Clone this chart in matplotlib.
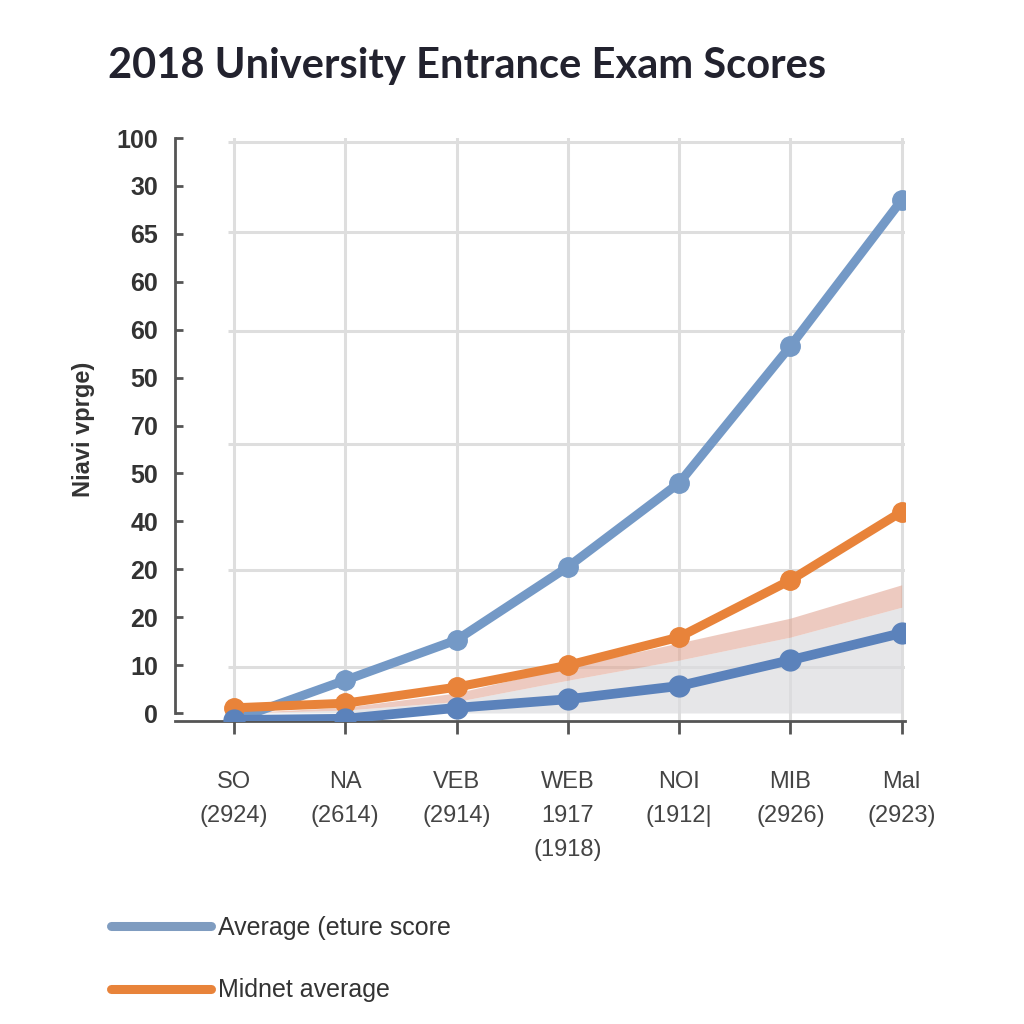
import numpy as np
import matplotlib
matplotlib.use("Agg")
import matplotlib.pyplot as plt
from matplotlib.lines import Line2D

# chart data
categories = ["SO\n(2924)", "NA\n(2614)", "VEB\n(2914)", "WEB\n1917\n(1918)",
              "NOI\n(1912|", "MIB\n(2926)", "Mal\n(2923)"]
avg_score = [-1.2, 5.7, 12.7, 25.4, 40.0, 63.8, 89.2]
midnet_avg = [0.9, 1.7, 4.5, 8.3, 13.2, 23.1, 35.0]
lower_score = [-1.2, -1.0, 0.9, 2.4, 4.7, 9.2, 13.9]
band_low = [0.0, 0.5, 2.0, 5.7, 9.2, 13.2, 18.4]
band_high = [0.0, 1.0, 3.5, 8.0, 12.2, 16.5, 22.3]
ytick_labels = ["0", "10", "20", "20", "40", "50", "70", "50", "60", "60", "65", "30", "100"]
grid_y = [8.0, 24.9, 46.8, 66.4, 83.7, 99.3]
legend_labels = ["Average (eture score", "Midnet average"]

narrow = ["Liberation Sans", "DejaVu Sans"]

fig = plt.figure(figsize=(10.24, 10.24), dpi=100)
ax = fig.add_axes([175 / 1024, 1 - 720.5 / 1024, 730 / 1024, 582.5 / 1024])

x = np.arange(len(categories))
ax.set_xlim(-0.53, 6.03)
ax.set_ylim(-1.3, 100)

# grid
for gx in x:
    ax.axvline(gx, color="#dedede", lw=2.2, zorder=0)
ax.hlines(grid_y, -0.05, 6.03, color="#dedede", lw=2.2, zorder=0)

# shaded bands
ax.fill_between(x, 0, band_low, color="#dcdcdf", alpha=0.7, lw=0, zorder=1)
ax.fill_between(x, band_low, band_high, color="#e2a896", alpha=0.6, lw=0, zorder=1)

ax.plot(x, avg_score, color="#7499c6", lw=6.5, marker="o", ms=14, zorder=3,
        solid_capstyle="round")
ax.plot(x, midnet_avg, color="#e8833a", lw=6.5, marker="o", ms=14, zorder=4,
        solid_capstyle="round")
ax.plot(x, lower_score, color="#5b82bb", lw=7, marker="o", ms=15, zorder=5,
        solid_capstyle="round")

# axes styling
for s in ["top", "right"]:
    ax.spines[s].set_visible(False)
for s in ["left", "bottom"]:
    ax.spines[s].set_color("#555555")
    ax.spines[s].set_linewidth(2)
ax.spines["left"].set_bounds(0, 100)

ax.set_yticks(np.linspace(0, 100, 13))
ax.set_yticklabels(ytick_labels, fontsize=18, fontweight="bold", color="#333333",
                   family=narrow)
ax.tick_params(axis="y", direction="in", length=6, width=2, color="#555555", pad=12)

ax.set_xticks(x)
ax.set_xticklabels(categories, fontsize=17, color="#444444", family=narrow,
                   linespacing=1.72, va="top")
ax.tick_params(axis="x", direction="out", length=9, width=2, color="#555555", pad=27)

ax.set_ylabel("Niavi vprge)", fontsize=17, fontweight="bold", color="#333333",
              family=narrow)
ax.yaxis.set_label_coords(-0.11, 0.5)

fig.text(108 / 1024, 1 - 78 / 1024, "2018 University Entrance Exam Scores",
         fontsize=30, fontweight="bold", family=["Lato", "DejaVu Sans"],
         color="#22222e", va="baseline")

handles = [Line2D([], [], color="#7f9cc0", lw=6.5, solid_capstyle="round"),
           Line2D([], [], color="#e8833a", lw=6.5, solid_capstyle="round")]
fig.legend(handles, legend_labels, loc="upper left",
           bbox_to_anchor=(88 / 1024, 1 - 893 / 1024), frameon=False,
           handlelength=4.0, handletextpad=0.3, labelspacing=1.55,
           prop={"family": narrow, "size": 18}, labelcolor="#333333")

fig.savefig("out.png", dpi=100, facecolor="white")
